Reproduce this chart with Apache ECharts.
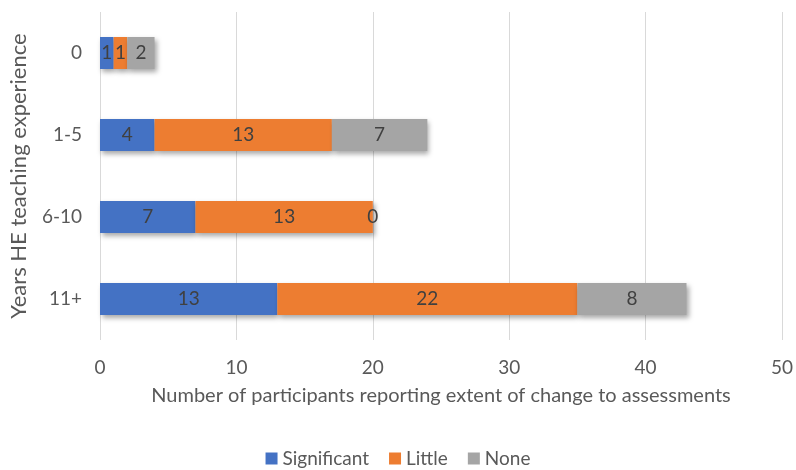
<!DOCTYPE html>
<html>
<head>
<meta charset="utf-8">
<script src="https://cdn.jsdelivr.net/npm/echarts@6/dist/echarts.min.js"></script>
<style>
  html, body { margin: 0; padding: 0; background: #fff; }
  #chart { width: 796px; height: 470px; }
</style>
</head>
<body>
<div id="chart"></div>
<script>
// data
const categories = ["0", "1-5", "6-10", "11+"];
const significant = [1, 4, 7, 13];
const little = [1, 13, 13, 22];
const none = [2, 7, 0, 8];
const xTicks = { min: 0, max: 50, interval: 10 };

const font = "Lato, 'Open Sans', sans-serif";

// bars with a soft drop shadow like the office chart
function barSeries(name, data, color) {
  return {
    name: name,
    type: "bar",
    stack: "total",
    barWidth: "39%",
    data: data,
    itemStyle: {
      color: color,
      shadowColor: "rgba(0,0,0,0.35)",
      shadowBlur: 5,
      shadowOffsetX: 2,
      shadowOffsetY: 3,
    },
    label: {
      show: true,
      position: "inside",
      color: "#404040",
      fontFamily: font,
      fontSize: 19,
    },
  };
}

const chart = echarts.init(document.getElementById("chart"));
chart.setOption({
  animation: false,
  textStyle: { fontFamily: font },
  grid: { left: 94, right: 10, top: 12, height: 328, containLabel: false },
  legend: {
    bottom: -3,
    left: "center",
    itemWidth: 12,
    itemHeight: 12,
    itemGap: 20,
    icon: "rect",
    textStyle: { color: "#595959", fontSize: 19, fontFamily: font },
    data: ["Significant", "Little", "None"],
  },
  xAxis: {
    type: "value",
    min: xTicks.min,
    max: xTicks.max,
    interval: xTicks.interval,
    name: "Number of participants reporting extent of change to assessments",
    nameLocation: "middle",
    nameGap: 46,
    nameTextStyle: { color: "#595959", fontSize: 20, fontFamily: font },
    axisLine: { show: false },
    axisTick: { show: false },
    axisLabel: { color: "#595959", fontSize: 19, margin: 18, fontFamily: font },
    splitLine: { lineStyle: { color: "#d9d9d9", width: 1 } },
  },
  yAxis: {
    type: "category",
    inverse: true,
    data: categories,
    name: "Years HE teaching experience",
    nameLocation: "middle",
    nameGap: 70,
    nameTextStyle: { color: "#595959", fontSize: 22, fontFamily: font },
    axisLine: { show: false },
    axisTick: { show: false },
    axisLabel: { color: "#595959", fontSize: 19, margin: 18, fontFamily: font },
  },
  series: [
    barSeries("Significant", significant, "#4472C4"),
    barSeries("Little", little, "#ED7D31"),
    barSeries("None", none, "#A5A5A5"),
  ],
});
</script>
</body>
</html>
